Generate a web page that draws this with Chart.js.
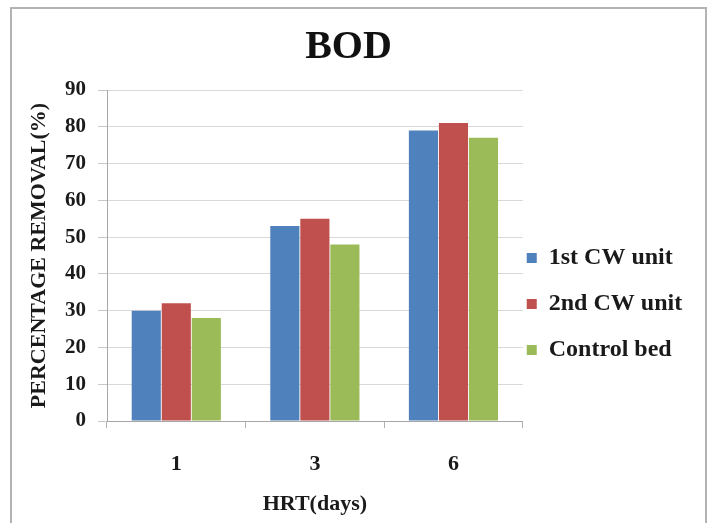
<!DOCTYPE html>
<html>
<head>
<meta charset="utf-8">
<script src="https://cdn.jsdelivr.net/npm/chart.js@4"></script>
<style>
    html, body { margin: 0; padding: 0; background: #fff; }
    #wrap { position: relative; width: 713px; height: 523px; overflow: hidden; }
    #frame { position: absolute; left: 10px; top: 7px; width: 697px; height: 530px;
             border: 2px solid #b3b3b3; box-sizing: border-box; }
    canvas { position: absolute; left: 0; top: 0; }
</style>
</head>
<body>
<div id="wrap">
    <div id="frame"></div>
    <canvas id="chart" width="713" height="523"></canvas>
</div>
<script>
const hrtDays = ['1', '3', '6'];
const cwUnit1 = [30, 53, 79];
const cwUnit2 = [32, 55, 81];
const controlBed = [28, 48, 77];
const yMin = 0;
const yMax = 90;
const yStep = 10;

const serif = "'Liberation Serif', 'DejaVu Serif', serif";

// legend sits right against the plot, and lower than the middle
// (only left/top are moved, so the legend's clip box still covers the text)
const legendShift = {
    id: 'legendShift',
    afterLayout(chart) {
        const lg = chart.legend;
        lg.left = chart.chartArea.right + 4 - lg.options.labels.padding;
        lg.top = 224;
    }
};

new Chart(document.getElementById('chart'), {
    type: 'bar',
    data: {
        labels: hrtDays,
        datasets: [
            { label: '1st CW unit', data: cwUnit1, backgroundColor: '#4f81bd' },
            { label: '2nd CW unit', data: cwUnit2, backgroundColor: '#c0504d' },
            { label: 'Control bed', data: controlBed, backgroundColor: '#9bbb59' }
        ]
    },
    options: {
        responsive: false,
        animation: false,
        layout: { padding: { left: 0, right: 16, top: 0, bottom: 0 } },
        datasets: {
            bar: { categoryPercentage: 0.65, barPercentage: 0.97 }
        },
        scales: {
            x: {
                afterFit(scale) { scale.height = 102; },
                grid: { drawOnChartArea: false, offset: true, tickLength: 7, color: '#b0b0b0' },
                border: { color: '#a6a6a6' },
                ticks: { color: '#1a1a1a', padding: 23, font: { family: serif, size: 22, weight: 'bold' } },
                title: {
                    display: true,
                    text: 'HRT(days)',
                    color: '#1a1a1a',
                    padding: { top: 10, bottom: 5 },
                    font: { family: serif, size: 22, weight: 'bold' }
                }
            },
            y: {
                min: yMin,
                max: yMax,
                afterFit(scale) { scale.width = 107; },
                grid: { color: '#d9d9d9', tickLength: 9, tickColor: '#c8c8c8' },
                border: { color: '#a6a6a6' },
                ticks: { stepSize: yStep, color: '#1a1a1a', padding: 12, font: { family: serif, size: 21, weight: 'bold' } },
                title: {
                    display: true,
                    text: 'PERCENTAGE REMOVAL(%)',
                    color: '#1a1a1a',
                    padding: { top: 26, bottom: 0 },
                    font: { family: serif, size: 22, weight: 'bold' }
                }
            }
        },
        plugins: {
            title: {
                display: true,
                text: 'BOD',
                color: '#111',
                padding: { top: 24, bottom: 18 },
                font: { family: serif, size: 40, weight: 'bold' }
            },
            legend: {
                position: 'right',
                align: 'start',
                labels: {
                    usePointStyle: true,
                    pointStyle: 'rect',
                    boxWidth: 10,
                    boxHeight: 10,
                    padding: 22,
                    color: '#1a1a1a',
                    font: { family: serif, size: 24, weight: 'bold' }
                }
            },
            tooltip: { enabled: false }
        }
    },
    plugins: [legendShift]
});
</script>
</body>
</html>
